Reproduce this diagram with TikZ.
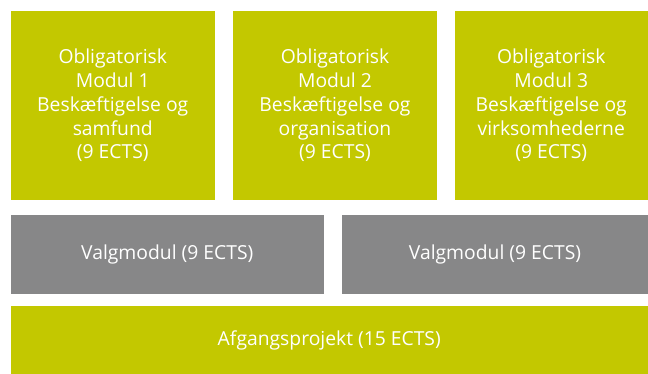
\documentclass[tikz,border=0pt]{standalone}
\usepackage{fontspec}
\setmainfont{Open Sans}
\definecolor{lime}{RGB}{195,200,0}
\definecolor{slate}{RGB}{135,135,136}
\begin{document}
\begin{tikzpicture}[x=1pt,y=-1pt,
  box/.style={inner sep=0pt, outer sep=0pt, text=white, align=center,
    font=\fontsize{19.3}{23.8}\selectfont},
  greenbox/.style={box, fill=lime},
  graybox/.style={box, fill=slate}]
\useasboundingbox (0,0) rectangle (648,374);
\fill[white] (0,0) rectangle (648,374);
\node[greenbox, minimum width=204.5pt, minimum height=189pt] (m1) at (112.75,105.5)
  {Obligatorisk\\Modul 1\\Beskæftigelse og\\samfund\\(9 ECTS)};
\node[greenbox, minimum width=204pt, minimum height=189pt] (m2) at (335,105.5)
  {Obligatorisk\\Modul 2\\Beskæftigelse og\\organisation\\(9 ECTS)};
\node[greenbox, minimum width=193.5pt, minimum height=189pt] (m3) at (551.25,105.5)
  {Obligatorisk\\Modul 3\\Beskæftigelse og\\virksomhederne\\(9 ECTS)};
\node[graybox, minimum width=313.5pt, minimum height=79pt] (v1) at (167.25,254.5)
  {Valgmodul (9 ECTS)};
\node[graybox, minimum width=306pt, minimum height=79pt] (v2) at (495,254.5)
  {Valgmodul (9 ECTS)};
\node[greenbox, minimum width=637.5pt, minimum height=68pt] (ap) at (329.25,340)
  {Afgangsprojekt (15 ECTS)};
\end{tikzpicture}
\end{document}
